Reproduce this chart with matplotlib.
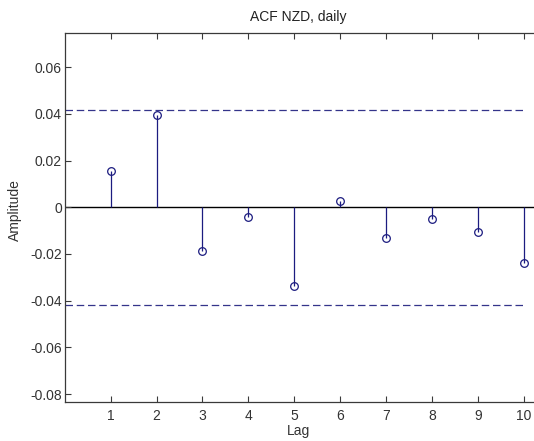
import numpy as np
import matplotlib
matplotlib.use('Agg')
import matplotlib.pyplot as plt

plt.rcParams['font.family'] = ['Liberation Sans', 'DejaVu Sans']

# ACF values
lags = [1, 2, 3, 4, 5, 6, 7, 8, 9, 10]
acf = [0.0156, 0.0396, -0.0186, -0.0043, -0.0339, 0.0027, -0.0130, -0.0051, -0.0107, -0.0240]
conf_bound = 0.0419
y_ticks = [-0.08, -0.06, -0.04, -0.02, 0, 0.02, 0.04, 0.06]
y_tick_labels = ['-0.08', '-0.06', '-0.04', '-0.02', '0', '0.02', '0.04', '0.06']

stem_color = '#1c1c80'
dash_color = '#34348a'
axis_color = '#3a3a3a'

fig = plt.figure(figsize=(5.34, 4.41), dpi=100)
# right spine sits just past the image edge, like the cropped screenshot
ax = fig.add_axes([0.1212, 0.0891, 0.8895, 0.8367])

# zero baseline
ax.axhline(0, color='black', linewidth=1.0, zorder=1)

# stems
ax.vlines(lags, 0, acf, color=stem_color, linewidth=0.9, zorder=2)
ax.plot(lags, acf, linestyle='none', marker='o', markersize=5.5,
        markerfacecolor='none', markeredgecolor=stem_color, markeredgewidth=0.9, zorder=3)

# confidence bounds
ax.plot([0, lags[-1]], [conf_bound, conf_bound], color=dash_color, linewidth=0.9,
        dashes=(6, 3))
ax.plot([0, lags[-1]], [-conf_bound, -conf_bound], color=dash_color, linewidth=0.9,
        dashes=(6, 3))

ax.set_xlim(0, 10.35)
ax.set_ylim(-0.0833, 0.0748)
ax.set_xticks(lags)
ax.set_xticklabels([str(v) for v in lags])
ax.set_yticks(y_ticks)
ax.set_yticklabels(y_tick_labels)

ax.tick_params(direction='in', length=4, width=0.8, color=axis_color,
               top=True, right=True, labelsize=10, labelcolor='#333333')
ax.tick_params(axis='y', which='both', right=True)
ax.tick_params(axis='x', pad=5)
ax.tick_params(axis='y', pad=2)
for s in ax.spines.values():
    s.set_color(axis_color)
    s.set_linewidth(0.9)

fig.text(298 / 534, 1 - 17 / 441, 'ACF NZD, daily', ha='center', va='center',
         fontsize=10, color='#222222')
fig.text(298 / 534, 1 - 431 / 441, 'Lag', ha='center', va='center',
         fontsize=10, color='#333333')
fig.text(15 / 534, 1 - 210 / 441, 'Amplitude', ha='center', va='center',
         rotation=90, fontsize=10, color='#333333')

fig.savefig('out.png', dpi=100)
